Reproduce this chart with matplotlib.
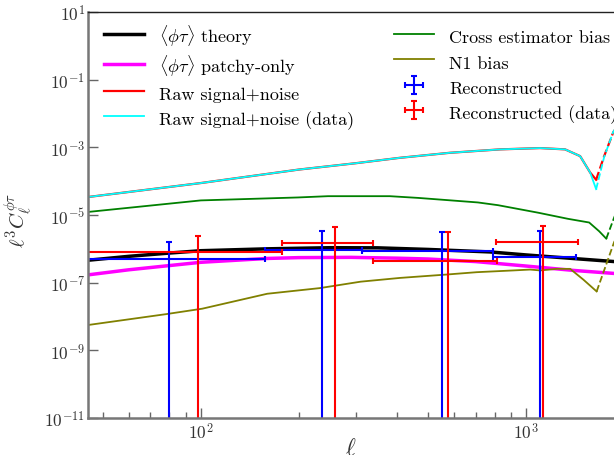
import numpy as np
import matplotlib
matplotlib.use("Agg")
import matplotlib.pyplot as plt
from matplotlib.ticker import FixedLocator, NullLocator, NullFormatter

plt.rcParams['font.family'] = ['cmr10', 'DejaVu Serif']
plt.rcParams['mathtext.fontset'] = 'cm'
plt.rcParams['axes.formatter.use_mathtext'] = True

# <phi tau> theory and patchy-only
ell_th = [45, 60, 80, 100, 160, 250, 350, 500, 774, 1000, 1466, 2000]
theory = [4.6e-7, 6.0e-7, 7.5e-7, 8.8e-7, 1.0e-6, 1.08e-6, 1.07e-6, 9.6e-7, 8.1e-7, 6.6e-7, 5.0e-7, 4.0e-7]
ell_pa = [45, 60, 80, 100, 160, 200, 290, 400, 500, 700, 1000, 1400, 1900, 2000]
patchy = [1.7e-7, 2.4e-7, 3.2e-7, 4.0e-7, 5.2e-7, 5.5e-7, 5.6e-7, 5.3e-7, 5.0e-7, 4.2e-7, 3.1e-7, 2.3e-7, 1.85e-7, 1.75e-7]

# raw signal+noise (negative values drawn dashed)
ell_raw = [45, 100, 200, 300, 409, 583, 832, 1104, 1318, 1466, 1574, 1642, 1738, 1854, 2000]
raw = [3.4e-5, 8.8e-5, 2.2e-4, 3.4e-4, 4.9e-4, 6.9e-4, 8.7e-4, 9.5e-4, 8.7e-4, 5.5e-4, 1.8e-4, 1.1e-4,
       -5.5e-4, -2.8e-3, -8e-3]
raw_data = [3.4e-5, 8.8e-5, 2.2e-4, 3.4e-4, 4.9e-4, 6.9e-4, 8.7e-4, 9.5e-4, 8.7e-4, 5.5e-4, 1.8e-4, 5.8e-5,
            -5.2e-4, -2.9e-3, -8e-3]

# biases
ell_cross = [45, 100, 199, 246, 381, 466, 711, 820, 1089, 1346, 1563, 1678, 1764, 1866, 2000]
cross = [1.23e-5, 2.7e-5, 3.3e-5, 3.6e-5, 3.6e-5, 3.2e-5, 2.35e-5, 1.95e-5, 1.17e-5, 7.7e-6, 6.0e-6,
         3.3e-6, 2.0e-6, -8.5e-6, -4e-5]
ell_n1 = [45, 78, 101, 160, 232, 310, 409, 570, 705, 914, 1029, 1104, 1244, 1366, 1500, 1648, 1866, 2000]
n1 = [5.6e-9, 1.17e-8, 1.7e-8, 4.7e-8, 6.9e-8, 1.07e-7, 1.38e-7, 1.74e-7, 2.04e-7, 2.3e-7, 2.44e-7,
      2.3e-7, 2.56e-7, 2.56e-7, 1.23e-7, 5.5e-8, -1.6e-6, -5e-6]

# reconstructed bandpowers
ell_rec = [80, 236, 552, 1105]
dell_rec = [78, 78, 238, 315]
rec = [5.1e-7, 9.3e-7, 8.5e-7, 5.7e-7]
rec_err = [1.07e-6, 2.47e-6, 2.4e-6, 2.8e-6]
ell_recd = [98, 258, 575, 1128]
dell_recd = [80, 80, 237, 318]
rec_d = [8.1e-7, 1.45e-6, 4.3e-7, 1.55e-6]
rec_d_err = [1.53e-6, 2.9e-6, 2.67e-6, 3.1e-6]

fig = plt.figure(figsize=(6.14, 4.56), dpi=100)
ax = fig.add_axes([88/614, 37/456, 536/614, 406/456])


def draw(ell, val, **kw):
    ell = np.asarray(ell, float)
    val = np.asarray(val, float)
    neg = np.where(val < 0)[0]
    if len(neg) == 0:
        ax.plot(ell, val, **kw)
        return
    k = neg[0]
    ax.plot(ell[:k], val[:k], **kw)
    kw.pop('label', None)
    ax.plot(ell[k-1:], np.abs(val[k-1:]), ls='--', **kw)


draw(ell_th, theory, color='black', lw=2.5, label=r'$\langle\phi\tau\rangle$ theory')
draw(ell_pa, patchy, color='magenta', lw=2.5, label=r'$\langle\phi\tau\rangle$ patchy-only')
draw(ell_raw, raw, color='red', lw=1.6, label='Raw signal+noise')
draw(ell_raw, raw_data, color='cyan', lw=1.3, label='Raw signal+noise (data)')
draw(ell_cross, cross, color='green', lw=1.3, label='Cross estimator bias')
draw(ell_n1, n1, color='olive', lw=1.3, label='N1 bias')

ax.errorbar(ell_rec, rec, yerr=rec_err, xerr=dell_rec, fmt='none', ecolor='blue',
            elinewidth=1.5, capsize=2, capthick=1.5, label='Reconstructed')
ax.errorbar(ell_recd, rec_d, yerr=rec_d_err, xerr=dell_recd, fmt='none', ecolor='red',
            elinewidth=1.5, capsize=2, capthick=1.5, label='Reconstructed (data)')

ax.set_xscale('log')
ax.set_yscale('log')
ax.set_xlim(45, 2000)
ax.set_ylim(1e-11, 1e1)
ax.yaxis.set_major_locator(FixedLocator(10.0 ** np.arange(-11, 2, 2)))
ax.yaxis.set_minor_locator(NullLocator())
ax.xaxis.set_minor_formatter(NullFormatter())

ax.tick_params(which='both', direction='in', colors='#666666', labelcolor='#333333',
               labelsize=12.5, top=False, right=False, pad=2)
ax.tick_params(which='major', length=7, width=1)
ax.tick_params(which='minor', length=4, width=1)
for s in ['left', 'bottom']:
    ax.spines[s].set_color('#777777')
    ax.spines[s].set_linewidth(1.8)
ax.spines['top'].set_color('#222222')
ax.spines['top'].set_linewidth(1.0)
ax.spines['right'].set_visible(False)

ax.set_xlabel(r'$\ell$', fontsize=17, color='#333333')
ax.set_ylabel(r'$\ell^3 C_\ell^{\phi\tau}$', fontsize=15, color='#333333')
ax.yaxis.set_label_coords(-0.098, 0.49)
ax.xaxis.set_label_coords(0.49, -0.046)

ax.legend(loc='upper left', bbox_to_anchor=(0.03, 0.973), ncol=2, frameon=False, fontsize=13,
          handlelength=2.2, handleheight=1.4, handletextpad=0.85, labelspacing=0.24,
          columnspacing=2.2, borderpad=0, borderaxespad=0)

fig.savefig('out.png', dpi=100)
